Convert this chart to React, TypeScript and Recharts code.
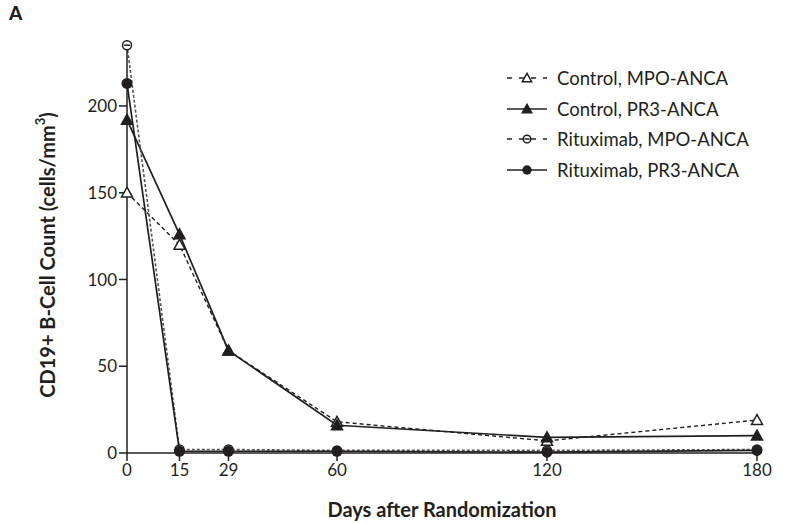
import { Label, Line, LineChart, XAxis, YAxis } from 'recharts'

const days = [0, 15, 29, 60, 120, 180]
const controlMpo = [150, 120, 59, 18, 7, 19]
const controlPr3 = [192, 126, 59, 16, 9, 10]
const rituximabMpo = [235, 2, 2, 1.5, 1.5, 2]
const rituximabPr3 = [213, 1, 1, 1, 0.5, 1.5]

const xTicks = [0, 15, 29, 60, 120, 180]
const yTicks = [0, 50, 100, 150, 200]

const legendItems = [
  { key: 'controlMpo', label: 'Control, MPO-ANCA', dashed: true, shape: 'openTri' },
  { key: 'controlPr3', label: 'Control, PR3-ANCA', dashed: false, shape: 'tri' },
  { key: 'rituximabMpo', label: 'Rituximab, MPO-ANCA', dashed: true, shape: 'openCircle' },
  { key: 'rituximabPr3', label: 'Rituximab, PR3-ANCA', dashed: false, shape: 'circle' },
]

const data = days.map((d, i) => ({
  day: d,
  controlMpo: controlMpo[i],
  controlPr3: controlPr3[i],
  rituximabMpo: rituximabMpo[i],
  rituximabPr3: rituximabPr3[i],
}))

const ink = '#231f20'
const font = 'Lato, "Open Sans", sans-serif'

function Marker({ shape, cx, cy, s = 1 }: { shape: string; cx: number; cy: number; s?: number }) {
  if (shape === 'tri' || shape === 'openTri') {
    const h = 5.5 * s
    const w = 5.5 * s
    return (
      <path
        d={`M${cx},${cy - h} L${cx + w},${cy + h * 0.8} L${cx - w},${cy + h * 0.8} Z`}
        fill={shape === 'tri' ? ink : '#fff'}
        stroke={ink}
        strokeWidth={1.5}
      />
    )
  }
  if (shape === 'openCircle') {
    return (
      <g>
        <circle cx={cx} cy={cy} r={4.5 * s} fill="#fff" stroke={ink} strokeWidth={1.5} />
        <line x1={cx - 3 * s} x2={cx + 3 * s} y1={cy} y2={cy} stroke={ink} strokeWidth={1.5} />
      </g>
    )
  }
  return <circle cx={cx} cy={cy} r={5.5 * s} fill={ink} />
}

const dotFor = (shape: string) => (props: any) => (
  <g key={`${shape}-${props.index}`}>
    <Marker shape={shape} cx={props.cx} cy={props.cy} />
  </g>
)

function LegendBox() {
  return (
    <div style={{ position: 'absolute', left: 503, top: 63, fontFamily: font, fontSize: 18.5, color: ink }}>
      {legendItems.map((it) => (
        <div key={it.key} style={{ display: 'flex', alignItems: 'center', height: 30.5 }}>
          <svg width={48} height={16} style={{ marginRight: 6 }}>
            <line
              x1={4}
              x2={44}
              y1={8}
              y2={8}
              stroke={ink}
              strokeWidth={1.6}
              strokeDasharray={it.dashed ? '5 7' : undefined}
            />
            <Marker shape={it.shape} cx={24} cy={8} s={0.85} />
          </svg>
          <span>{it.label}</span>
        </div>
      ))}
    </div>
  )
}

export default function App() {
  return (
    <div style={{ position: 'absolute', left: 0, top: 0, width: 787, height: 523, background: '#fff' }}>
      <div
        style={{
          position: 'absolute',
          left: 9,
          top: 1,
          fontFamily: font,
          fontWeight: 900,
          fontSize: 19,
          color: ink,
        }}
      >
        A
      </div>
      <LineChart width={787} height={523} data={data} margin={{ top: 40, right: 30, bottom: 0, left: 0 }}>
        <XAxis
          dataKey="day"
          type="number"
          domain={[0, 180]}
          ticks={xTicks}
          interval={0}
          stroke={ink}
          strokeWidth={1.5}
          tickSize={8}
          tickMargin={3}
          tick={{ fontSize: 17, fill: ink, fontFamily: font }}
          height={70}
        >
          <Label
            value="Days after Randomization"
            position="insideBottom"
            offset={6}
            style={{ fontSize: 20, fontWeight: 700, fill: ink, fontFamily: font }}
          />
        </XAxis>
        <YAxis
          type="number"
          domain={[0, 238]}
          ticks={yTicks}
          interval={0}
          stroke={ink}
          strokeWidth={1.5}
          tickSize={8}
          tickMargin={2}
          width={127}
          tick={{ fontSize: 17, fill: ink, fontFamily: font }}
        >
          <Label
            content={({ viewBox }: any) => (
              <text
                x={viewBox.x + 47}
                y={viewBox.y + 215}
                transform={`rotate(-90 ${viewBox.x + 47} ${viewBox.y + 215})`}
                textAnchor="middle"
                dominantBaseline="central"
                style={{ fontSize: 20, fontWeight: 700, fill: ink, fontFamily: font }}
              >
                CD19+ B-Cell Count (cells/mm<tspan dy={-7} fontSize={13}>3</tspan>
                <tspan dy={7}>)</tspan>
              </text>
            )}
          />
        </YAxis>
        <Line
          dataKey="controlMpo"
          stroke={ink}
          strokeWidth={1.4}
          strokeDasharray="4 3"
          dot={dotFor('openTri')}
          isAnimationActive={false}
        />
        <Line dataKey="controlPr3" stroke={ink} strokeWidth={1.7} dot={dotFor('tri')} isAnimationActive={false} />
        <Line
          dataKey="rituximabMpo"
          stroke="#555"
          strokeWidth={1.6}
          strokeDasharray="3 2"
          dot={dotFor('openCircle')}
          isAnimationActive={false}
        />
        <Line dataKey="rituximabPr3" stroke={ink} strokeWidth={1.7} dot={dotFor('circle')} isAnimationActive={false} />
      </LineChart>
      <LegendBox />
    </div>
  )
}
